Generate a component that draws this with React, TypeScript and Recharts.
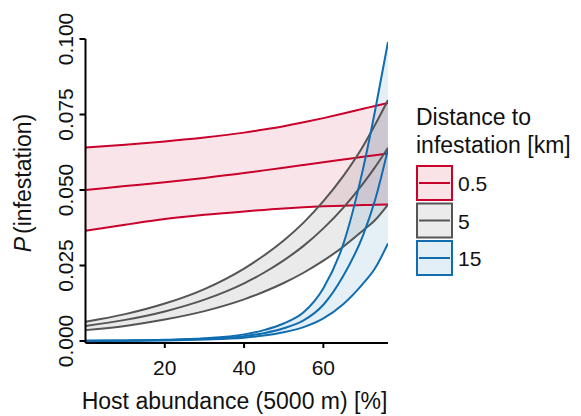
import React from 'react'
import { ComposedChart, Area, Line, XAxis, YAxis, Legend, Label } from 'recharts'

// host abundance (5000 m) [%] sampled along the x axis
const hostAbundance = [0, 10, 20, 30, 40, 45, 50, 55, 60, 65, 70, 73, 76.3]

// distance 0.5 km
const redMid = [0.05, 0.0513, 0.0526, 0.054, 0.0556, 0.0565, 0.0574, 0.0583, 0.0592, 0.0601, 0.061, 0.0615, 0.0621]
const redLo = [0.0365, 0.0385, 0.0404, 0.0418, 0.0429, 0.0434, 0.0439, 0.0443, 0.0446, 0.0448, 0.045, 0.0451, 0.0452]
const redHi = [0.0641, 0.065, 0.0661, 0.0674, 0.069, 0.07, 0.0711, 0.0724, 0.0738, 0.0753, 0.0769, 0.0778, 0.0788]

// distance 5 km
const grayMid = [0.005, 0.007, 0.0098, 0.0137, 0.0191, 0.0226, 0.0267, 0.0315, 0.0373, 0.0441, 0.0521, 0.0575, 0.064]
const grayLo = [0.0036, 0.005, 0.0071, 0.0099, 0.0138, 0.0163, 0.0192, 0.0226, 0.0266, 0.0312, 0.0366, 0.04, 0.0452]
const grayHi = [0.0064, 0.0089, 0.0124, 0.0172, 0.024, 0.0283, 0.0333, 0.0392, 0.0463, 0.0546, 0.0645, 0.0715, 0.0798]

// distance 15 km
const blueMid = [0.0001, 0.0001, 0.0003, 0.0007, 0.0016, 0.0026, 0.0042, 0.0068, 0.012, 0.0215, 0.035, 0.0465, 0.0635]
const blueLo = [0.0, 0.0001, 0.0002, 0.0005, 0.0011, 0.0018, 0.0029, 0.0046, 0.0075, 0.0122, 0.019, 0.024, 0.0323]
const blueHi = [0.0001, 0.0002, 0.0004, 0.0009, 0.0022, 0.0036, 0.0058, 0.0095, 0.0175, 0.032, 0.057, 0.076, 0.099]

const xTicks = [20, 40, 60]
const yTicks = [0, 0.025, 0.05, 0.075, 0.1]
const distanceLabels = ['0.5', '5', '15']

const groups = [
  { key: 'red', color: '#c9002b', swatch: '#f9e3e7', label: distanceLabels[0] },
  { key: 'gray', color: '#555555', swatch: '#ebebeb', label: distanceLabels[1] },
  { key: 'blue', color: '#0f6db0', swatch: '#e3eff7', label: distanceLabels[2] },
]

const rows = hostAbundance.map((x, i) => ({
  x,
  redBand: [redLo[i], redHi[i]], redMid: redMid[i], redLo: redLo[i], redHi: redHi[i],
  grayBand: [grayLo[i], grayHi[i]], grayMid: grayMid[i], grayLo: grayLo[i], grayHi: grayHi[i],
  blueBand: [blueLo[i], blueHi[i]], blueMid: blueMid[i], blueLo: blueLo[i], blueHi: blueHi[i],
}))

const FONT = "'Liberation Sans', Arial, sans-serif"

const XTick = ({ x, y, payload }: any) => (
  <text x={x} y={y + 25} textAnchor="middle" fontSize={21} fill="#111" fontFamily={FONT}>
    {payload.value}
  </text>
)

const YTick = ({ x, y, payload }: any) => (
  <text transform={`translate(${x},${y}) rotate(-90)`} textAnchor="middle" fontSize={21} fill="#111" fontFamily={FONT}>
    {Number(payload.value).toFixed(3)}
  </text>
)

const LegendBox = () => (
  <svg width={170} height={190} style={{ display: 'block' }}>
    <text x={7} y={30} fontSize={23} fill="#111" fontFamily={FONT}>Distance to</text>
    <text x={7} y={58} fontSize={23} fill="#111" fontFamily={FONT}>infestation [km]</text>
    {groups.map((g, i) => {
      const top = 71 + i * 37.5
      return (
        <g key={g.key}>
          <rect x={8} y={top} width={35} height={34} fill={g.swatch} stroke={g.color} strokeWidth={2} />
          <line x1={10} x2={41} y1={top + 17} y2={top + 17} stroke={g.color} strokeWidth={2} />
          <text x={49} y={top + 25} fontSize={21} fill="#111" fontFamily={FONT}>{g.label}</text>
        </g>
      )
    })}
  </svg>
)

export default function App() {
  return (
    <div style={{ position: 'absolute', left: 0, top: 0, width: 581, height: 416, background: '#fff', fontFamily: FONT }}>
      <ComposedChart width={581} height={416} data={rows} margin={{ top: 39, right: 193, bottom: 0, left: 0 }}>
        <XAxis dataKey="x" type="number" domain={[0, 76.3]} ticks={xTicks} height={73}
          axisLine={{ stroke: '#000', strokeWidth: 2 }} tickLine={{ stroke: '#000', strokeWidth: 2 }} tickSize={5}
          tick={<XTick />} allowDataOverflow>
          <Label content={() => (
            <text x={234.5} y={409} textAnchor="middle" fontSize={23} fill="#111" fontFamily={FONT}>
              Host abundance (5000 m) [%]
            </text>
          )} />
        </XAxis>
        <XAxis xAxisId="top" dataKey="x" type="number" domain={[0, 76.3]} orientation="top" height={0}
          tick={false} tickLine={false} axisLine={{ stroke: '#222', strokeWidth: 1.5 }} />
        <YAxis type="number" domain={[-0.00066, 0.1]} ticks={yTicks} width={85.5}
          axisLine={{ stroke: '#000', strokeWidth: 2 }} tickLine={{ stroke: '#000', strokeWidth: 2 }} tickSize={6} tickMargin={7}
          tick={<YTick />} allowDataOverflow interval={0}>
          <Label content={() => (
            <text transform="translate(31,183) rotate(-90)" textAnchor="middle" fontSize={23} fill="#111" fontFamily={FONT}>
              <tspan fontStyle="italic">P</tspan><tspan dx={3}>(infestation)</tspan>
            </text>
          )} />
        </YAxis>
        <YAxis yAxisId="right" type="number" domain={[-0.00066, 0.1]} orientation="right" width={0}
          tick={false} tickLine={false} axisLine={{ stroke: '#000', strokeWidth: 2 }} />
        <Legend layout="vertical" align="center" verticalAlign="middle" content={<LegendBox />}
          wrapperStyle={{ left: 409, top: 95, width: 170, height: 190 }} />
        {groups.flatMap(g => [
          <Area key={g.key + 'Band'} dataKey={g.key + 'Band'} type="monotone" stroke="none"
            fill={g.color} fillOpacity={g.key === 'gray' ? 0.12 : g.key === 'red' ? 0.1 : 0.11}
            isAnimationActive={false} activeDot={false} legendType="none" />,
          ...['Hi', 'Mid', 'Lo'].map(s => (
            <Line key={g.key + s} dataKey={g.key + s} type="monotone" stroke={g.color} strokeWidth={2}
              dot={false} activeDot={false} isAnimationActive={false} legendType="none" />
          )),
        ])}
      </ComposedChart>
    </div>
  )
}
